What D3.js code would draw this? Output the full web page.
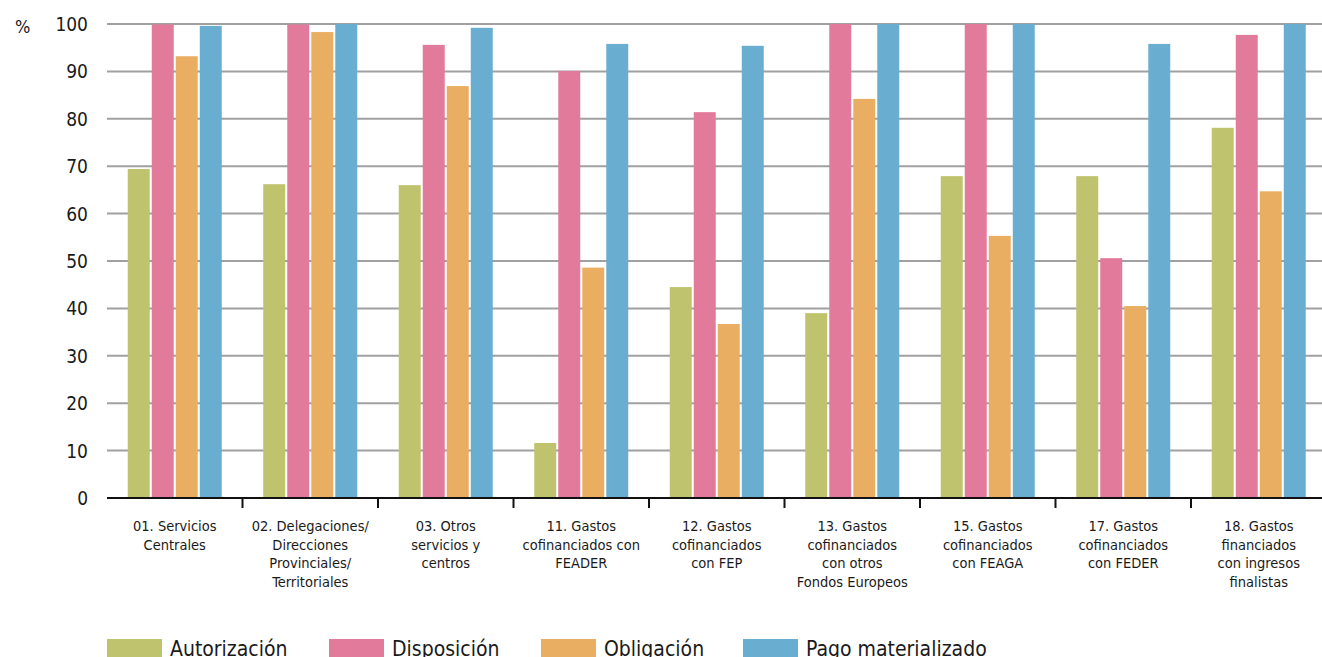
<!DOCTYPE html>
<html><head><meta charset="utf-8">
<script src="https://cdn.jsdelivr.net/npm/d3@7"></script>
<style>
html,body{margin:0;padding:0;background:#fff;overflow:hidden;}
text{font-family:"Liberation Sans Narrow","DejaVu Sans Condensed","Roboto",sans-serif;fill:#1a1a1a;}
</style></head>
<body><svg id="c" width="1322" height="657"></svg>
<script>
const categories = [
  ["01. Servicios","Centrales"],
  ["02. Delegaciones/","Direcciones","Provinciales/","Territoriales"],
  ["03. Otros","servicios y","centros"],
  ["11. Gastos","cofinanciados con","FEADER"],
  ["12. Gastos","cofinanciados","con FEP"],
  ["13. Gastos","cofinanciados","con otros","Fondos Europeos"],
  ["15. Gastos","cofinanciados","con FEAGA"],
  ["17. Gastos","cofinanciados","con FEDER"],
  ["18. Gastos","financiados","con ingresos","finalistas"]
];
const seriesNames = ["Autorización","Disposición","Obligación","Pago materializado"];
const autorizacion = [69.4, 66.2, 66.0, 11.6, 44.5, 39.0, 67.9, 67.9, 78.1];
const disposicion  = [99.9, 99.9, 95.6, 90.1, 81.4, 100, 100, 50.6, 97.7];
const obligacion   = [93.2, 98.3, 86.9, 48.6, 36.7, 84.2, 55.3, 40.5, 64.7];
const pago         = [99.6, 100, 99.2, 95.8, 95.4, 100, 100, 95.8, 100];
const yTicks = [0,10,20,30,40,50,60,70,80,90,100];
const colors = ["#bfc36d","#e27a9b","#e9ae62","#69aed1"];
const series = [autorizacion, disposicion, obligacion, pago];

const svg = d3.select("#c");
const x0 = d3.scaleBand().domain(d3.range(categories.length)).range([107, 1326.5]).paddingInner(0).paddingOuter(0);
const x1 = d3.scaleBand().domain(d3.range(4)).range([20.75, x0.bandwidth()-20.75]).paddingInner(0.085);
const y = d3.scaleLinear().domain([0,100]).range([498, 24]);

// grid
svg.append("g").selectAll("line").data(yTicks.filter(d=>d>0)).join("line")
  .attr("x1",107).attr("x2",1322).attr("y1",d=>y(d)).attr("y2",d=>y(d))
  .attr("stroke","#a0a0a0").attr("stroke-width",2);

// y labels
svg.append("g").selectAll("text").data(yTicks).join("text")
  .attr("x",88).attr("y",d=>y(d)+7).attr("text-anchor","end")
  .style("font-size","19px").text(d=>d);
svg.append("text").attr("x",15).attr("y",33).style("font-size","18px").text("%");

// bars
const g = svg.append("g").selectAll("g").data(categories.map((c,i)=>i)).join("g")
  .attr("transform",i=>`translate(${x0(i)},0)`);
g.selectAll("rect").data(i=>series.map((s,k)=>({k,v:s[i]}))).join("rect")
  .attr("x",d=>x1(d.k)).attr("width",x1.bandwidth())
  .attr("y",d=>y(d.v)).attr("height",d=>y(0)-y(d.v))
  .attr("fill",d=>colors[d.k]);

// x axis
svg.append("line").attr("x1",107).attr("x2",1322).attr("y1",y(0)).attr("y2",y(0))
  .attr("stroke","#111").attr("stroke-width",2);
svg.append("g").selectAll("line").data(d3.range(1,categories.length)).join("line")
  .attr("x1",i=>x0(i)).attr("x2",i=>x0(i)).attr("y1",y(0)).attr("y2",y(0)+10)
  .attr("stroke","#111").attr("stroke-width",2);

// category labels
const cl = svg.append("g").selectAll("text").data(categories).join("text")
  .attr("text-anchor","middle").style("font-size","14.5px")
  .attr("transform",(d,i)=>`translate(${x0(i)+x0.bandwidth()/2},531)`);
cl.selectAll("tspan").data(d=>d).join("tspan")
  .attr("x",0).attr("dy",(d,j)=>j===0?0:"18.7px").text(d=>d);

// legend
const legX = [107, 329, 541, 743];
const lg = svg.append("g").selectAll("g").data(seriesNames).join("g")
  .attr("transform",(d,i)=>`translate(${legX[i]},639)`);
lg.append("rect").attr("width",55).attr("height",20).attr("fill",(d,i)=>colors[i]);
lg.append("text").attr("x",63).attr("y",17).style("font-size","21px").text(d=>d);
</script>
</body></html>
